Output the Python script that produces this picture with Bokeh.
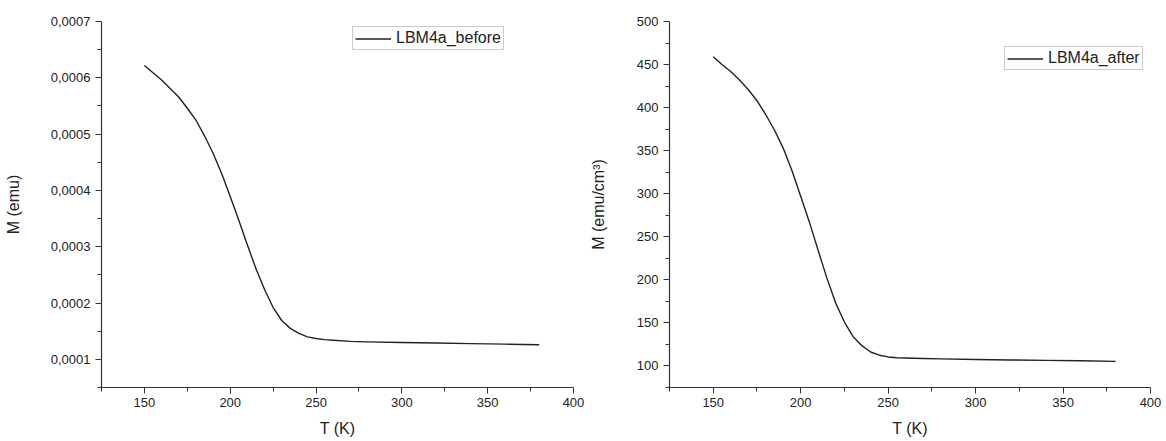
from bokeh.plotting import figure
from bokeh.layouts import row
from bokeh.models import (Range1d, FixedTicker, CustomJSTickFormatter, Legend,
                          LegendItem)
from bokeh.embed import file_html
from bokeh.resources import INLINE

# Temperature sweep (K)
temp_before = [150, 155, 160, 165, 170, 175, 180, 185, 190, 195, 200, 205, 210,
               215, 220, 225, 230, 235, 240, 245, 250, 255, 260, 270, 280, 300,
               320, 340, 360, 380]
# Magnetisation before treatment (emu)
m_before = [0.000622, 0.000609, 0.000596, 0.000581, 0.000566, 0.000546, 0.000525,
            0.000497, 0.000466, 0.000430, 0.000389, 0.000347, 0.000303, 0.000261,
            0.000224, 0.000192, 0.000169, 0.000155, 0.000146, 0.000140, 0.000137,
            0.000135, 0.000134, 0.000132, 0.000131, 0.000130, 0.000129, 0.000128,
            0.000127, 0.000126]

temp_after = [150, 155, 160, 165, 170, 175, 180, 185, 190, 195, 200, 205, 210,
              215, 220, 225, 230, 235, 240, 245, 250, 255, 260, 270, 280, 300,
              320, 340, 360, 380]
# Magnetisation after treatment (emu/cm^3)
m_after = [459, 450, 442, 432, 421, 408, 392, 374, 353, 327, 297, 267, 234,
           202, 173, 151, 134, 123.6, 116.2, 112.5, 110.5, 109.6, 109.2, 108.6,
           108.2, 107.5, 107, 106.5, 106, 105.3]

x_ticks = [150, 200, 250, 300, 350, 400]
x_minor = [125, 175, 225, 275, 325, 375]
y1_ticks = [0.0001, 0.0002, 0.0003, 0.0004, 0.0005, 0.0006, 0.0007]
y1_minor = [0.00005, 0.00015, 0.00025, 0.00035, 0.00045, 0.00055, 0.00065]
y2_ticks = [100, 150, 200, 250, 300, 350, 400, 450, 500]
y2_minor = [75, 125, 175, 225, 275, 325, 375, 425, 475]

FONT = "Liberation Sans"
INK = "#222222"


def style(p, xlabel, ylabel, ylabel_standoff):
    p.outline_line_color = None
    p.xgrid.grid_line_color = None
    p.ygrid.grid_line_color = None
    p.background_fill_color = "white"
    p.border_fill_color = "white"
    for ax in (p.xaxis[0], p.yaxis[0]):
        ax.axis_line_color = "#333333"
        ax.axis_line_width = 1.2
        ax.major_tick_line_color = "#333333"
        ax.minor_tick_line_color = "#333333"
        ax.major_tick_in = 0
        ax.major_tick_out = 6
        ax.minor_tick_in = 0
        ax.minor_tick_out = 4
        ax.major_label_text_font = FONT
        ax.major_label_text_font_size = "13px"
        ax.major_label_text_color = INK
        ax.axis_label_text_font = FONT
        ax.axis_label_text_font_size = "16px"
        ax.axis_label_text_font_style = "normal"
        ax.axis_label_text_color = INK
    p.xaxis.axis_label = xlabel
    p.yaxis.axis_label = ylabel
    p.xaxis.major_label_standoff = 4
    p.yaxis.major_label_standoff = 5
    p.xaxis.axis_label_standoff = 10
    p.yaxis.axis_label_standoff = ylabel_standoff


def add_legend(p, renderer, label, loc):
    leg = Legend(items=[LegendItem(label=label, renderers=[renderer])],
                 location=loc, padding=2, spacing=0, margin=0,
                 glyph_width=36, glyph_height=17, label_height=17,
                 label_standoff=5, label_text_font=FONT,
                 label_text_font_size="16px", label_text_color=INK,
                 border_line_color="#999999", border_line_width=1,
                 background_fill_alpha=1.0)
    p.add_layout(leg, "center")


# Left panel: raw moment
p1 = figure(width=586, height=441, output_backend="svg", toolbar_location=None,
            x_range=Range1d(125, 400), y_range=Range1d(0.00005, 0.0007),
            min_border_left=101, min_border_right=13, min_border_top=21,
            min_border_bottom=54)
r1 = p1.line(temp_before, m_before, line_color=INK, line_width=1.4,
             line_join="round")
p1.xaxis.ticker = FixedTicker(ticks=x_ticks, minor_ticks=x_minor)
p1.yaxis.ticker = FixedTicker(ticks=y1_ticks, minor_ticks=y1_minor)
p1.yaxis.formatter = CustomJSTickFormatter(
    code="return tick.toFixed(4).replace('.', ',');")
style(p1, "T (K)", "M (emu)", 26)
add_legend(p1, r1, "LBM4a_before", (251, 337))

# Right panel: moment per volume
p2 = figure(width=580, height=441, output_backend="svg", toolbar_location=None,
            x_range=Range1d(125, 400), y_range=Range1d(75, 500),
            min_border_left=83, min_border_right=16, min_border_top=19,
            min_border_bottom=54)
r2 = p2.line(temp_after, m_after, line_color=INK, line_width=1.4,
             line_join="round")
p2.xaxis.ticker = FixedTicker(ticks=x_ticks, minor_ticks=x_minor)
p2.yaxis.ticker = FixedTicker(ticks=y2_ticks, minor_ticks=y2_minor)
style(p2, "T (K)", "M (emu/cm³)", 27)
add_legend(p2, r2, "LBM4a_after", (335, 317))

layout = row(p1, p2)
open("out.html", "w").write(file_html(layout, INLINE))
